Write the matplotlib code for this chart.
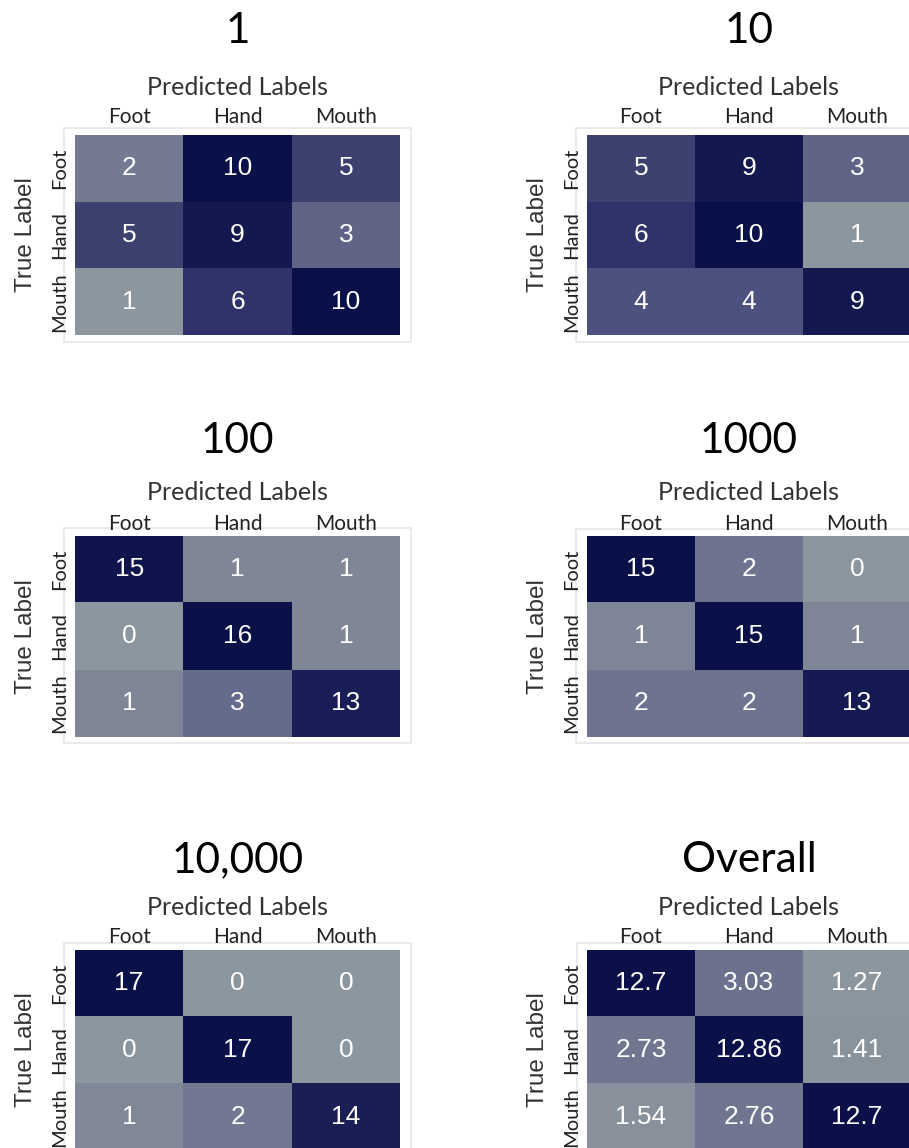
import matplotlib
matplotlib.use("Agg")
import matplotlib.pyplot as plt
from matplotlib.colors import LinearSegmentedColormap
from matplotlib.patches import Rectangle

# Confusion matrices for each training-set size plus the overall mean
classes = ["Foot", "Hand", "Mouth"]
panel_titles = ["1", "10", "100", "1000", "10,000", "Overall"]
cm_1 = [[2, 10, 5], [5, 9, 3], [1, 6, 10]]
cm_10 = [[5, 9, 3], [6, 10, 1], [4, 4, 9]]
cm_100 = [[15, 1, 1], [0, 16, 1], [1, 3, 13]]
cm_1000 = [[15, 2, 0], [1, 15, 1], [2, 2, 13]]
cm_10000 = [[17, 0, 0], [0, 17, 0], [1, 2, 14]]
cm_overall = [[12.7, 3.03, 1.27], [2.73, 12.86, 1.41], [1.54, 2.76, 12.7]]
matrices = [cm_1, cm_10, cm_100, cm_1000, cm_10000, cm_overall]

W, H = 909, 1148
fig = plt.figure(figsize=(W / 100, H / 100), dpi=100)
fig.patch.set_facecolor("white")

cmap = LinearSegmentedColormap.from_list(
    "slate_navy",
    [(0.00, "#8C969E"), (0.07, "#7E8596"), (0.13, "#6F7590"),
     (0.20, "#64698A"), (0.25, "#5B6086"), (0.33, "#4E5280"),
     (0.44, "#3E4270"), (0.56, "#30336A"), (0.80, "#1B2058"),
     (0.89, "#141A50"), (1.00, "#0A1048")])

TITLE_FONT = "Lato"
LABEL_FONT = "Lato"
NUM_FONT = "Liberation Sans"

# column: heatmap x-extent (px); row: heatmap top/bottom, title / label / tick baselines (px)
cols = [(75, 400), (587, 911)]
rows = [(135, 335, 43, 95, 123),
        (536, 737, 453, 500, 530),
        (950, 1150, 872, 915, 943)]
frames = [[(64, 128, 411, 342), (576, 128, 925, 342)],
          [(64, 528, 411, 743), (576, 529, 925, 743)],
          [(64, 943, 411, 1160), (577, 943, 925, 1160)]]

def fx(px):
    return px / W

def fy(py):
    return 1 - py / H

PX2PT = 72 / 100

for i, (mat, title) in enumerate(zip(matrices, panel_titles)):
    r, c = divmod(i, 2)
    x0, x1 = cols[c]
    y0, y1, t_base, p_base, k_base = rows[r]
    xc = (x0 + x1) / 2

    # light frame around each panel, kept behind the labels
    fl, ft, fr, fb = frames[r][c]
    fig.patches.append(Rectangle((fx(fl), fy(fb)), (fr - fl) / W, (fb - ft) / H,
                                 transform=fig.transFigure, fill=False,
                                 edgecolor="#E6E6E6", linewidth=1.2, zorder=-5))

    ax = fig.add_axes([fx(x0), fy(y1), (x1 - x0) / W, (y1 - y0) / H])
    ax.patch.set_alpha(0)
    flat = [v for row in mat for v in row]
    ax.imshow(mat, cmap=cmap, vmin=min(flat), vmax=max(flat), aspect="auto",
              interpolation="nearest")
    for yi, row in enumerate(mat):
        for xi, v in enumerate(row):
            ax.text(xi, yi, f"{v:g}", ha="center", va="center", color="white",
                    fontsize=19, family=NUM_FONT)

    for s in ax.spines.values():
        s.set_visible(False)
    ax.set_xticks(range(3), classes)
    ax.set_yticks(range(3), classes)
    ax.xaxis.tick_top()
    ax.tick_params(axis="x", length=0, pad=(y0 - k_base) * PX2PT,
                   labelsize=15, labelcolor="#222222")
    ax.tick_params(axis="y", length=0, pad=9.5 * PX2PT,
                   labelsize=14.5, labelcolor="#222222")
    for lab in ax.get_xticklabels():
        lab.set_family(LABEL_FONT)
        lab.set_va("baseline")
    for lab in ax.get_yticklabels():
        lab.set_family(LABEL_FONT)
        lab.set_rotation(90)
        lab.set_rotation_mode("anchor")
        lab.set_ha("center")
        lab.set_va("baseline")

    fig.text(fx(xc), fy(t_base), title, ha="center", va="baseline",
             fontsize=30.5, family=TITLE_FONT, color="black")
    fig.text(fx(xc), fy(p_base), "Predicted Labels", ha="center", va="baseline",
             fontsize=18, family=LABEL_FONT, color="#333333")
    fig.text(fx(x0 - 43), fy((y0 + y1) / 2), "True Label", ha="center",
             va="baseline", rotation=90, rotation_mode="anchor",
             fontsize=17.5, family=NUM_FONT, color="#333333")

fig.savefig("out.png", dpi=100, facecolor="white")
